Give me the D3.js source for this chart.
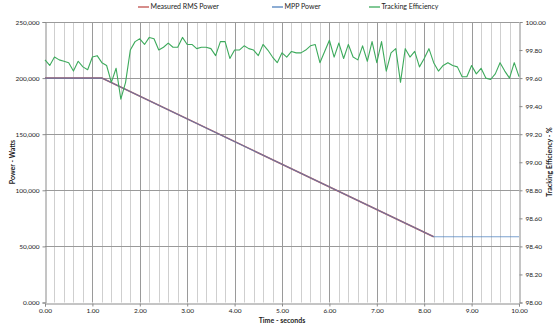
<!DOCTYPE html>
<html>
<head>
<meta charset="utf-8">
<script src="https://cdn.jsdelivr.net/npm/d3@7"></script>
<style>
  html, body { margin: 0; padding: 0; background: #fff; }
  svg { display: block; }
  text { font-family: Lato, "Open Sans", "DejaVu Sans", sans-serif; fill: #222; }
</style>
</head>
<body>
<svg id="chart" width="558" height="329"></svg>
<script>
// Power breakpoints (seconds, watts)
const measuredTime  = [0, 1.2, 8.2];
const measuredPower = [200000, 200000, 58600];
const mppTime  = [0, 1.2, 8.2, 10];
const mppPower = [200000, 200000, 58600, 58600];

// Tracking efficiency sampled every 0.1 s from 0.0 to 10.0 s (%)
const effTime = d3.range(101).map(i => +(i / 10).toFixed(1));
const efficiency = [
  99.73, 99.69, 99.75, 99.73, 99.72, 99.71, 99.65, 99.72, 99.68, 99.66,
  99.75, 99.76, 99.71, 99.69, 99.57, 99.67, 99.45, 99.57, 99.80, 99.86,
  99.88, 99.84, 99.89, 99.88, 99.80, 99.82, 99.85, 99.82, 99.82, 99.89,
  99.84, 99.84, 99.81, 99.82, 99.82, 99.81, 99.76, 99.86, 99.86, 99.74,
  99.80, 99.80, 99.83, 99.81, 99.80, 99.76, 99.84, 99.80, 99.75, 99.71,
  99.78, 99.75, 99.79, 99.78, 99.78, 99.80, 99.83, 99.84, 99.71, 99.79,
  99.87, 99.75, 99.85, 99.74, 99.84, 99.75, 99.73, 99.83, 99.72, 99.86,
  99.71, 99.86, 99.65, 99.78, 99.81, 99.57, 99.81, 99.75, 99.79, 99.68,
  99.74, 99.81, 99.71, 99.65, 99.69, 99.71, 99.69, 99.68, 99.61, 99.61,
  99.69, 99.63, 99.67, 99.60, 99.59, 99.63, 99.71, 99.65, 99.60, 99.71,
  99.61
];

// Axis ticks
const xTicks = d3.range(0, 11);
const xMinorTicks = d3.range(0, 51).map(i => +(i * 0.2).toFixed(1));
const powerTicks = [0, 50000, 100000, 150000, 200000, 250000];
const powerTickLabels = ["0.000", "50,000", "100,000", "150,000", "200,000", "250,000"];
const effTicks = d3.range(0, 11).map(i => +(98 + i * 0.2).toFixed(1));

const seriesNames = ["Measured RMS Power", "MPP Power", "Tracking Efficiency"];
const seriesColors = ["#c0504d", "#4f81bd", "#3daa5c"];

const svg = d3.select("#chart");
const plotLeft = 45, plotRight = 519, plotTop = 22, plotBottom = 302.5;

const x = d3.scaleLinear().domain([0, 10]).range([plotLeft, plotRight]);
const yP = d3.scaleLinear().domain([0, 250000]).range([plotBottom, plotTop]);
const yE = d3.scaleLinear().domain([98, 100]).range([plotBottom, plotTop]);

// Grid: light minor verticals, darker verticals at whole seconds, horizontals at power ticks
const grid = svg.append("g");
grid.selectAll("line.minor").data(xMinorTicks.filter(t => Math.abs(t - Math.round(t)) > 1e-6))
  .join("line").attr("class", "minor")
  .attr("x1", d => Math.round(x(d)) + 0.5).attr("x2", d => Math.round(x(d)) + 0.5)
  .attr("y1", plotTop).attr("y2", plotBottom)
  .attr("stroke", "#cfcfcf").attr("stroke-width", 1);
grid.selectAll("line.major").data(xTicks.slice(1, -1))
  .join("line").attr("class", "major")
  .attr("x1", d => Math.round(x(d)) + 0.5).attr("x2", d => Math.round(x(d)) + 0.5)
  .attr("y1", plotTop).attr("y2", plotBottom)
  .attr("stroke", "#9a9a9a").attr("stroke-width", 1);
grid.selectAll("line.h").data(powerTicks.slice(1))
  .join("line").attr("class", "h")
  .attr("x1", plotLeft).attr("x2", plotRight)
  .attr("y1", d => Math.round(yP(d)) + 0.5).attr("y2", d => Math.round(yP(d)) + 0.5)
  .attr("stroke", "#9a9a9a").attr("stroke-width", 1);

// Axes
const fmtX = d3.format(".2f");
const axisX = svg.append("g").attr("transform", `translate(0,${Math.round(plotBottom) + 0.5})`)
  .call(d3.axisBottom(x).tickValues(xTicks).tickFormat(fmtX).tickSize(3).tickPadding(2));
const axisL = svg.append("g").attr("transform", `translate(${plotLeft + 0.5},0)`)
  .call(d3.axisLeft(yP).tickValues(powerTicks)
    .tickFormat((d, i) => powerTickLabels[i]).tickSize(3).tickPadding(3));
const axisR = svg.append("g").attr("transform", `translate(${plotRight + 0.5},0)`)
  .call(d3.axisRight(yE).tickValues(effTicks).tickFormat(d3.format(".2f")).tickSize(3).tickPadding(3));

[axisX, axisL, axisR].forEach(a => {
  a.select(".domain").attr("stroke", "#8a8a8a");
  a.selectAll(".tick line").attr("stroke", "#8a8a8a");
  a.selectAll("text").attr("font-size", 6.5).attr("fill", "#222")
    .style("font-family", "Lato, 'Open Sans', sans-serif");
});

// Power lines (measured underneath, MPP on top so overlap reads purple)
const lineP = d3.line().x(d => x(d[0])).y(d => yP(d[1]));
svg.append("path")
  .datum(measuredTime.map((t, i) => [t, measuredPower[i]]))
  .attr("d", lineP).attr("fill", "none")
  .attr("stroke", seriesColors[0]).attr("stroke-width", 1.5);
svg.append("path")
  .datum(mppTime.map((t, i) => [t, mppPower[i]]))
  .attr("d", lineP).attr("fill", "none")
  .attr("stroke", seriesColors[1]).attr("stroke-width", 1.1).attr("stroke-opacity", 0.75);

// Efficiency line
const lineE = d3.line().x(d => x(d[0])).y(d => yE(d[1]));
svg.append("path")
  .datum(effTime.map((t, i) => [t, efficiency[i]]))
  .attr("d", lineE).attr("fill", "none")
  .attr("stroke", seriesColors[2]).attr("stroke-width", 1.1)
  .attr("stroke-linejoin", "round");

// Axis titles
svg.append("text").attr("x", 282).attr("y", 323).attr("text-anchor", "middle")
  .attr("font-size", 7).attr("font-weight", "bold").text("Time - seconds");
svg.append("text").attr("transform", `translate(15,162) rotate(-90)`)
  .attr("text-anchor", "middle").attr("font-size", 7).attr("font-weight", "bold")
  .text("Power - Watts");
svg.append("text").attr("transform", `translate(552,162) rotate(-90)`)
  .attr("text-anchor", "middle").attr("font-size", 7).attr("font-weight", "bold")
  .text("Tracking Efficiency - %");

// Legend
const legendX = [138, 272, 369];
const legend = svg.append("g");
seriesNames.forEach((name, i) => {
  const g = legend.append("g").attr("transform", `translate(${legendX[i]},7)`);
  g.append("line").attr("x1", 0).attr("x2", 11).attr("y1", 0).attr("y2", 0)
    .attr("stroke", seriesColors[i]).attr("stroke-width", 1.3);
  g.append("text").attr("x", 12.5).attr("y", 2.4).attr("font-size", 7).text(name);
});
</script>
</body>
</html>
